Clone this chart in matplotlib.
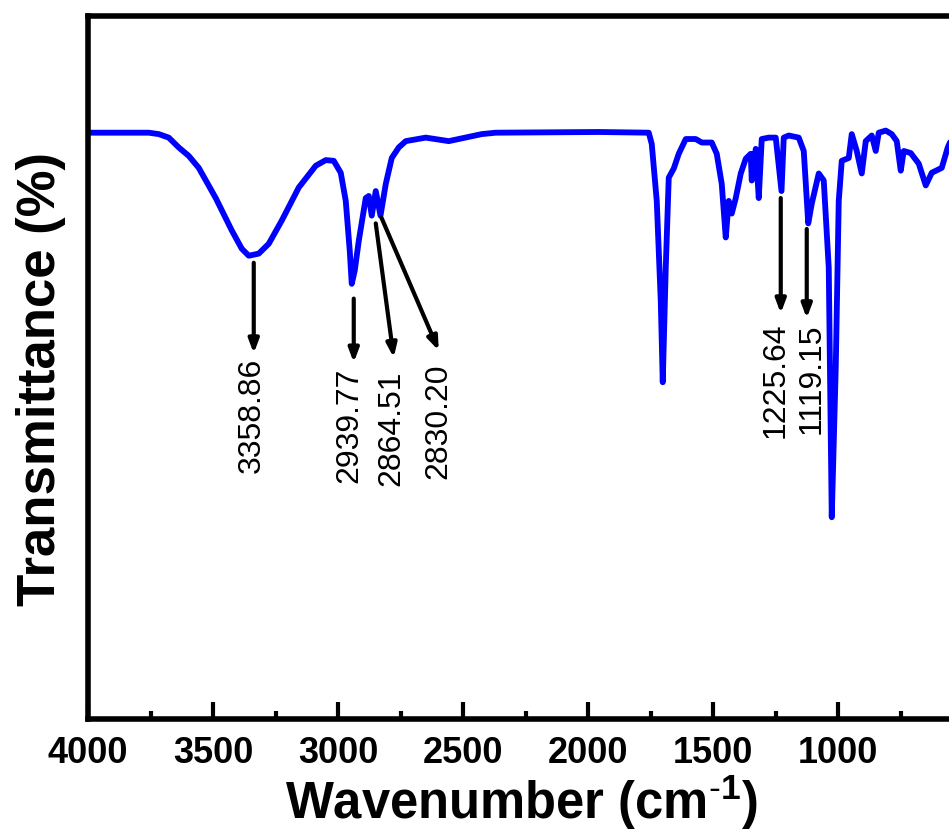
import matplotlib
matplotlib.use("Agg")
import matplotlib.pyplot as plt
from matplotlib.ticker import FixedLocator

# ---- data ----
wavenumber = [4000, 3757, 3717, 3677, 3637, 3597, 3557, 3489, 3425, 3385, 3357, 3317,
              3277, 3225, 3157, 3089, 3049, 3017, 2989, 2969, 2953, 2945, 2933, 2917,
              2889, 2877, 2865, 2849, 2830, 2809, 2785, 2757, 2729, 2649, 2557, 2425,
              2369, 1957, 1757, 1745, 1725, 1709,
              1701, 1689, 1677, 1657, 1637, 1609, 1569, 1545, 1505, 1485, 1465, 1449,
              1437, 1425, 1409, 1389, 1369, 1349, 1345, 1329, 1317, 1305, 1277, 1249,
              1226, 1217, 1197, 1157, 1137, 1119, 1105, 1077, 1057, 1037, 1025, 1009,
              997, 985, 957, 945, 925, 905, 889, 865, 849, 837, 809, 785, 765, 749,
              737, 709, 677, 649, 625, 585, 561, 540, 500, 400]
transmittance = [83.4, 83.4, 83.2, 82.7, 81.3, 80.1, 78.4, 74.1, 69.5, 66.9, 65.9, 66.2,
                 67.6, 70.9, 75.6, 78.7, 79.5, 79.4, 77.7, 73.7, 66.6, 61.9, 63.8, 68.0,
                 74.1, 74.4, 71.6, 75.1, 71.6, 76.1, 79.8, 81.3, 82.2, 82.7, 82.2, 83.2,
                 83.4, 83.5, 83.4, 81.8, 73.7, 59.5,
                 47.9, 64.2, 77.0, 78.3, 80.4, 82.5, 82.5, 82.0, 82.0, 80.4, 76.1, 68.5,
                 73.7, 71.9, 74.1, 77.6, 79.7, 80.4, 76.6, 81.1, 74.1, 82.5, 82.7, 82.7,
                 75.1, 82.7, 83.0, 82.7, 80.8, 70.5, 73.3, 77.6, 76.6, 64.2, 28.7, 50.0,
                 73.7, 79.4, 79.8, 83.2, 80.8, 77.6, 82.2, 83.0, 80.8, 83.4, 83.7, 83.2,
                 82.2, 78.0, 80.8, 80.5, 79.0, 75.9, 77.7, 78.4, 81.3, 83.0, 83.5, 83.5]

major_ticks = [4000, 3500, 3000, 2500, 2000, 1500, 1000]
minor_ticks = [3750, 3250, 2750, 2250, 1750, 1250, 750]

peak_labels = ["3358.86", "2939.77", "2864.51", "2830.20", "1225.64", "1119.15"]
arrow_tail_w = [3337, 2937, 2849, 2826, 1229, 1125]
arrow_tail_t = [64.9, 59.8, 70.5, 71.3, 74.1, 69.7]
arrow_head_w = [3337, 2937, 2777, 2597, 1229, 1125]
arrow_head_t = [52.0, 50.7, 51.4, 52.4, 57.7, 57.0]
label_w = [3345, 2955, 2785, 2597, 1249, 1105]
label_t = [51.4, 50.0, 49.6, 50.6, 56.4, 56.3]

FW, FH = 949, 836
plt.rcParams['font.family'] = ['Liberation Sans', 'DejaVu Sans']
plt.rcParams['mathtext.fontset'] = 'custom'
plt.rcParams['mathtext.rm'] = 'Liberation Sans'
plt.rcParams['mathtext.bf'] = 'Liberation Sans:bold'
fig = plt.figure(figsize=(FW / 100, FH / 100), dpi=100)

x0, x1 = 4000, 400
ppu = 0.25  # pixels per wavenumber unit
left_px, top_px, bot_px = 88, 16, 719
width_px = (x0 - x1) * ppu
ax = fig.add_axes([left_px / FW, 1 - bot_px / FH, width_px / FW, (bot_px - top_px) / FH])

ax.plot(wavenumber, transmittance, color='#0000FF', lw=4.2, solid_joinstyle='round',
        solid_capstyle='round')
ax.set_xlim(x0, x1)
ax.set_ylim(0, 100)

for s in ax.spines.values():
    s.set_linewidth(4)
ax.set_yticks([])
ax.xaxis.set_major_locator(FixedLocator(major_ticks))
ax.xaxis.set_minor_locator(FixedLocator(minor_ticks))
ax.tick_params(axis='x', which='major', direction='in', length=12, width=3, pad=12,
               labelsize=26)
ax.tick_params(axis='x', which='minor', direction='in', length=6, width=3)
for lab in ax.get_xticklabels():
    lab.set_fontweight('bold')

ax.set_xlabel(r'Wavenumber (cm$^{\mathbf{\text{-}1}}$)', fontsize=36.5, fontweight='bold')
ax.xaxis.set_label_coords((521 - left_px) / width_px, -0.076)
ax.set_ylabel('Transmittance (%)', fontsize=38, fontweight='bold')
ax.yaxis.set_label_coords((66 - left_px) / width_px, 0.483)

for i, txt in enumerate(peak_labels):
    ax.annotate('', xy=(arrow_head_w[i], arrow_head_t[i]),
                xytext=(arrow_tail_w[i], arrow_tail_t[i]),
                arrowprops=dict(arrowstyle='-|>,head_length=0.8,head_width=0.3',
                                color='black', lw=3, shrinkA=0, shrinkB=0))
    ax.text(label_w[i], label_t[i], txt, rotation=90, ha='center', va='top',
            fontsize=23, color='black')

fig.savefig('out.png', dpi=100)
